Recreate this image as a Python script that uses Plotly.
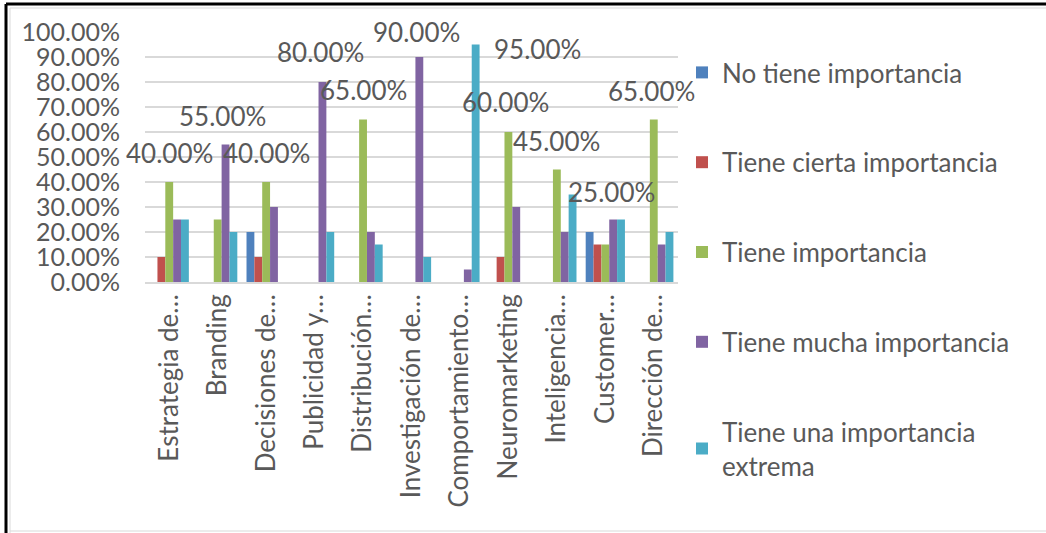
import plotly.graph_objects as go

categories = ["Estrategia de…", "Branding", "Decisiones de…", "Publicidad y…",
              "Distribución…", "Investigación de…", "Comportamiento…",
              "Neuromarketing", "Inteligencia…", "Customer…", "Dirección de…"]

no_tiene = [0, 0, 0.20, 0, 0, 0, 0, 0, 0, 0.20, 0]
cierta = [0.10, 0, 0.10, 0, 0, 0, 0, 0.10, 0, 0.15, 0]
importancia = [0.40, 0.25, 0.40, 0, 0.65, 0, 0, 0.60, 0.45, 0.15, 0.65]
mucha = [0.25, 0.55, 0.30, 0.80, 0.20, 0.90, 0.05, 0.30, 0.20, 0.25, 0.15]
extrema = [0.25, 0.20, 0, 0.20, 0.15, 0.10, 0.95, 0, 0.35, 0.25, 0.20]

series_names = ["No tiene importancia", "Tiene cierta importancia", "Tiene importancia",
                "Tiene mucha importancia", "Tiene una importancia<br>extrema"]
series_values = [no_tiene, cierta, importancia, mucha, extrema]
colors = ["#4F81BD", "#C0504D", "#9BBB59", "#8064A2", "#4BACC6"]

FONT = "Lato"
FS = 26
GRAY = "#595959"

W, H = 1046, 533
L, R, T, B = 145, 368, 32, 251
pw, ph = W - L - R, H - T - B

fig = go.Figure()
for name, vals, col in zip(series_names, series_values, colors):
    fig.add_trace(go.Bar(x=categories, y=vals, name=name, marker_color=col,
                         marker_line_width=0, legendgroup=name))

# data labels (max per category), placed like the reference
label_shift = [(0, 29), (5, 29), (0, 29), (6, 30), (0, 30), (5, 25),
               (78, -4), (-3, 30), (0, 29), (6, 28), (-2, 29)]
for i, c in enumerate(categories):
    m = max(v[i] for v in series_values)
    dx, dy = label_shift[i]
    fig.add_annotation(x=c, y=m, text=f"{m*100:.2f}%", showarrow=False,
                       xshift=dx, yshift=dy, font=dict(family=FONT, size=FS, color=GRAY))

def px_x(px):
    return (px - L) / pw

def px_y(py):
    return (H - B - py) / ph

shapes = [
    dict(type="line", xref="paper", yref="paper", x0=px_x(6), x1=px_x(1046), y0=px_y(4), y1=px_y(4),
         line=dict(color="black", width=3)),
    dict(type="line", xref="paper", yref="paper", x0=px_x(6), x1=px_x(6), y0=px_y(4), y1=px_y(533),
         line=dict(color="black", width=3)),
    dict(type="line", xref="paper", yref="paper", x0=px_x(10), x1=px_x(1046), y0=px_y(8), y1=px_y(8),
         line=dict(color="#D9D9D9", width=1)),
    dict(type="line", xref="paper", yref="paper", x0=px_x(10), x1=px_x(10), y0=px_y(8), y1=px_y(533),
         line=dict(color="#D9D9D9", width=1)),
    dict(type="line", xref="paper", yref="paper", x0=px_x(10), x1=px_x(1046), y0=px_y(531), y1=px_y(531),
         line=dict(color="#D9D9D9", width=1)),
]

fig.update_layout(
    width=W, height=H,
    margin=dict(l=L, r=R, t=T, b=B, autoexpand=False),
    paper_bgcolor="white", plot_bgcolor="white",
    barmode="group", bargap=0.19, bargroupgap=0,
    font=dict(family=FONT, size=FS, color=GRAY),
    shapes=shapes,
    legend=dict(x=px_x(682), y=(H - 49) / H, xanchor="left", yanchor="top",
                yref="container", maxheight=520,
                tracegroupgap=53, font=dict(family=FONT, size=FS, color=GRAY),
                itemwidth=30, bgcolor="rgba(0,0,0,0)"),
    showlegend=True,
)
fig.update_yaxes(range=[0, 1], dtick=0.1, tickformat=".2%", showgrid=True,
                 gridcolor="#D9D9D9", gridwidth=1.5, zeroline=False,
                 showline=False, ticklabelstandoff=24,
                 tickfont=dict(family=FONT, size=25, color=GRAY))
fig.update_xaxes(range=[-0.5, len(categories) - 0.5], tickangle=-90, showline=True,
                 linecolor="#D9D9D9", linewidth=1.5,
                 tickfont=dict(family=FONT, size=FS, color=GRAY), ticks="")

fig.write_html("out.html", post_script="document.body.style.margin='0';",
               config={"displayModeBar": False})
